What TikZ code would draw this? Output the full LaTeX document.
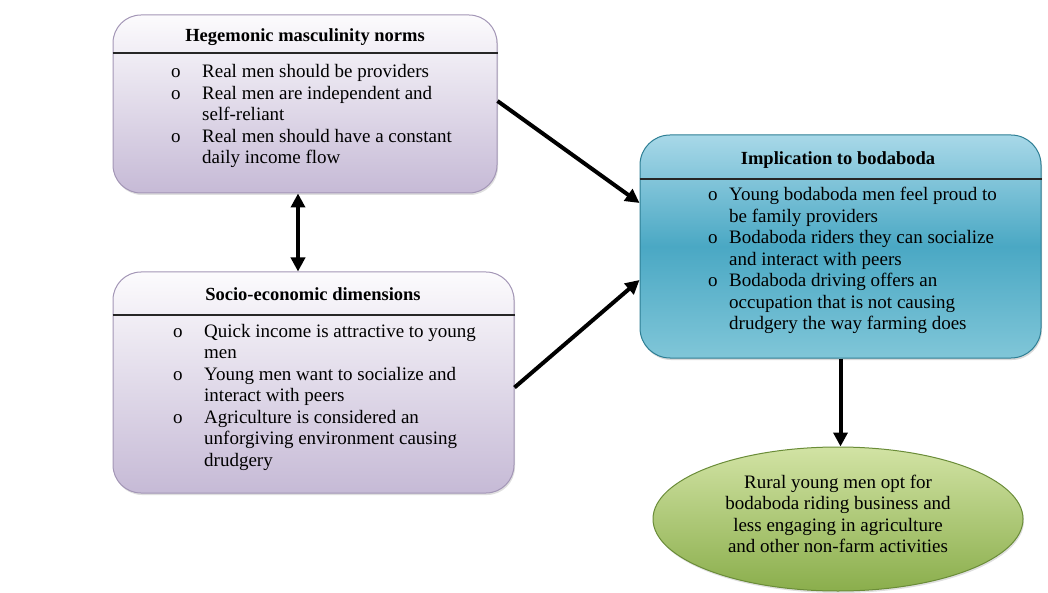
\documentclass[tikz,border=0pt]{standalone}
\usepackage{fontspec}
\setmainfont{Liberation Serif}
\usetikzlibrary{arrows.meta,shapes.geometric,shadows}
\definecolor{ptop}{HTML}{FCFBFD}
\definecolor{pbot}{HTML}{C6BAD6}
\definecolor{pline}{HTML}{A396B6}
\definecolor{btop}{HTML}{A8D8E8}
\definecolor{bmid}{HTML}{4AA8C4}
\definecolor{bbot}{HTML}{80C6D8}
\definecolor{bline}{HTML}{2D7E94}
\definecolor{gtop}{HTML}{D2E3A4}
\definecolor{gbot}{HTML}{8AAE4C}
\definecolor{gline}{HTML}{6A8C38}
\begin{document}
\begin{tikzpicture}[x=1pt,y=-1pt,
  pbox/.style={draw=pline, line width=1pt, rounded corners=28pt, top color=ptop, bottom color=pbot, inner sep=0pt,
    drop shadow={opacity=0.25, shadow xshift=1pt, shadow yshift=-2pt}},
  bbox/.style={draw=bline, line width=1pt, rounded corners=30pt, top color=btop, bottom color=bbot, middle color=bmid, inner sep=0pt,
    drop shadow={opacity=0.3, shadow xshift=1pt, shadow yshift=-2pt}},
  gell/.style={ellipse, draw=gline, line width=1pt, top color=gtop, bottom color=gbot, inner sep=0pt,
    drop shadow={opacity=0.25, shadow xshift=1pt, shadow yshift=-2pt}},
  title/.style={font=\fontsize{18.5}{21}\selectfont\bfseries, inner sep=0pt, anchor=base},
  body/.style={font=\fontsize{19}{21.5}\selectfont, inner sep=0pt, anchor=base west},
  hline/.style={line width=1.3pt, black!85},
  arr/.style={line width=4pt, -{Triangle[length=14pt,width=14pt]}},
  darr/.style={line width=4pt, {Triangle[length=14pt,width=14pt]}-{Triangle[length=14pt,width=14pt]}}
]
\useasboundingbox (0,0) rectangle (1048,593);

% boxes
\node[pbox, minimum width=384pt, minimum height=178pt] (b1) at (305,104) {};
\node[pbox, minimum width=401pt, minimum height=221pt] (b2) at (313.5,382.5) {};
\node[bbox, minimum width=401pt, minimum height=223pt] (b3) at (840.5,246.5) {};
\node[gell, minimum width=370pt, minimum height=144pt] (e1) at (838,519) {};

% header lines
\draw[hline] (b1.west |- 0,53) -- (b1.east |- 0,53);
\draw[hline] (b2.west |- 0,315) -- (b2.east |- 0,315);
\draw[hline] (b3.west |- 0,179) -- (b3.east |- 0,179);

% titles
\node[title] (h1) at (305,42) {Hegemonic masculinity norms};
\node[title] (h2) at (313,301) {Socio-economic dimensions};
\node[title] (h3) at (838,165) {Implication to bodaboda};

% bodies
\node[body] (t1) at (171,78) {\begin{tabular}[t]{@{}p{31pt}@{}l@{}}
o & Real men should be providers\\
o & Real men are independent and\\
  & self-reliant\\
o & Real men should have a constant\\
  & daily income flow
\end{tabular}};
\node[body] (t2) at (173,337) {\begin{tabular}[t]{@{}p{31pt}@{}l@{}}
o & Quick income is attractive to young\\
  & men\\
o & Young men want to socialize and\\
  & interact with peers\\
o & Agriculture is considered an\\
  & unforgiving environment causing\\
  & drudgery
\end{tabular}};
\node[body] (t3) at (708,201) {\begin{tabular}[t]{@{}p{21pt}@{}l@{}}
o & Young bodaboda men feel proud to\\
  & be family providers\\
o & Bodaboda riders they can socialize\\
  & and interact with peers\\
o & Bodaboda driving offers an\\
  & occupation that is not causing\\
  & drudgery the way farming does
\end{tabular}};
\node[font=\fontsize{19}{21.5}\selectfont, inner sep=0pt, anchor=base] (t4) at (838,488) {\begin{tabular}[t]{@{}c@{}}
Rural young men opt for\\
bodaboda riding business and\\
less engaging in agriculture\\
and other non-farm activities
\end{tabular}};

% connectors
\coordinate (dx) at (298,0);
\draw[darr] (b1.south -| dx) -- (b2.north -| dx);
\draw[arr] ([yshift=3pt]b1.east) -- ([yshift=43.5pt]b3.west);
\draw[arr] ([yshift=-5pt]b2.east) -- ([yshift=-33.5pt]b3.west);
\draw[arr] (b3.south) -- (b3.south |- e1.north);
\end{tikzpicture}
\end{document}
